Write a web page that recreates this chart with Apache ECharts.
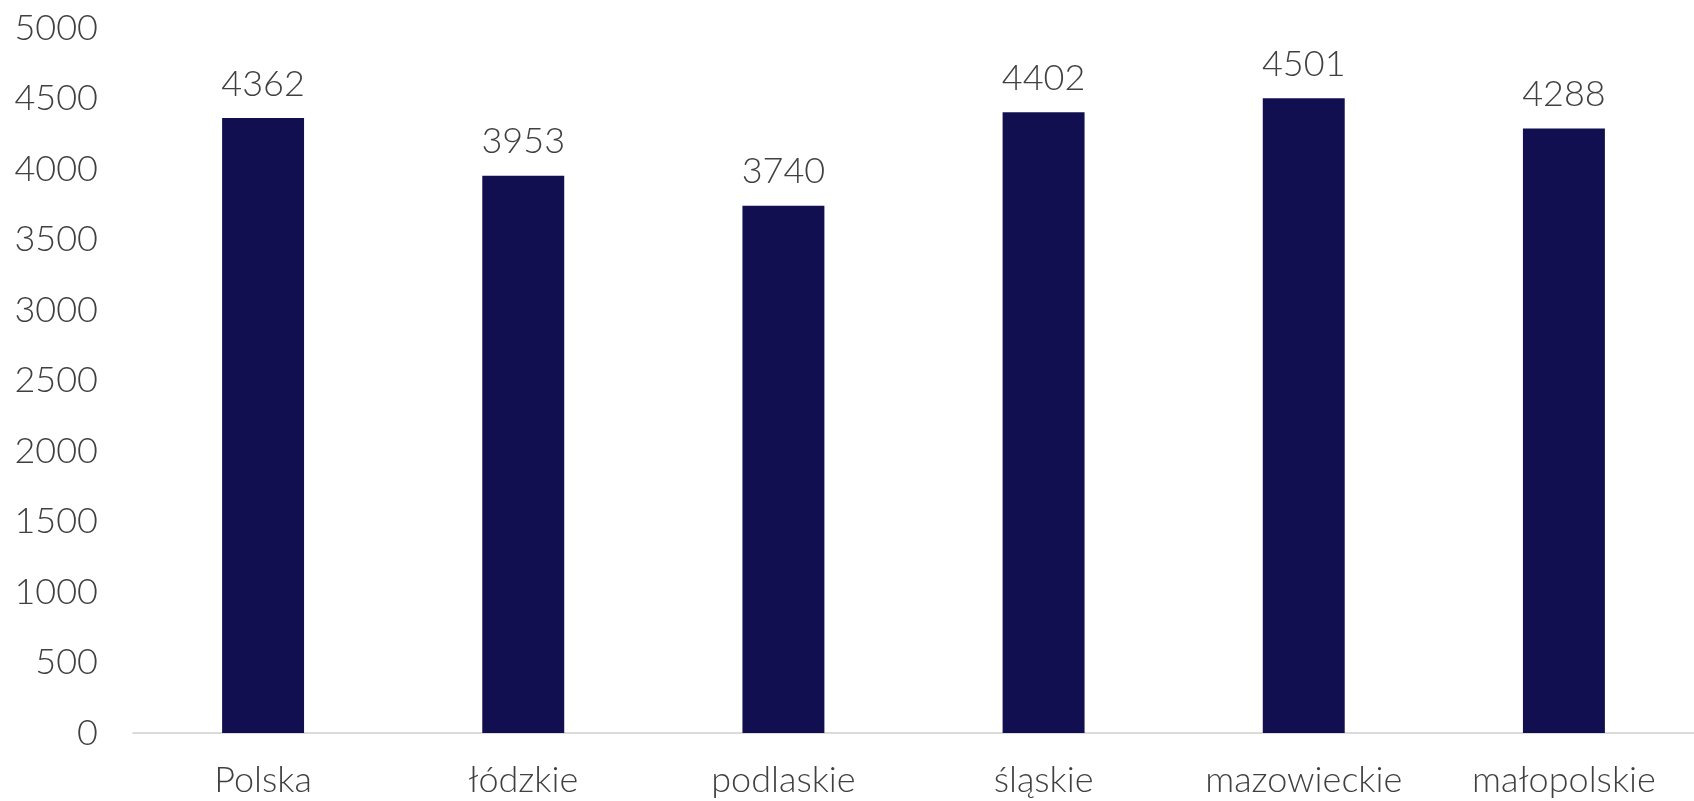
<!DOCTYPE html>
<html><head><meta charset="utf-8">
<script src="https://cdn.jsdelivr.net/npm/echarts@6/dist/echarts.min.js"></script>
<style>html,body{margin:0;padding:0;background:#fff}#c{width:1694px;height:801px}</style>
</head><body><div id="c"></div>
<script>
const categories = ['Polska', 'łódzkie', 'podlaskie', 'śląskie', 'mazowieckie', 'małopolskie'];
const values = [4362, 3953, 3740, 4402, 4501, 4288];
const yTicks = { min: 0, max: 5000, interval: 500 };

const chart = echarts.init(document.getElementById('c'));
const font = 'Lato';
chart.setOption({
  animation: false,
  grid: { left: 133, right: 0, top: 28, bottom: 68, containLabel: false },
  xAxis: {
    type: 'category', data: categories,
    axisLine: { lineStyle: { color: '#d0d0d0', width: 1.5 } },
    axisTick: { show: false },
    axisLabel: { color: '#404040', fontFamily: font, fontWeight: 300, fontSize: 36, margin: 29 }
  },
  yAxis: {
    type: 'value', min: yTicks.min, max: yTicks.max, interval: yTicks.interval,
    splitLine: { show: false }, axisLine: { show: false }, axisTick: { show: false },
    axisLabel: { color: '#404040', fontFamily: font, fontWeight: 300, fontSize: 36, margin: 35,
      formatter: v => String(v) }
  },
  series: [{
    type: 'bar', data: values, barWidth: '31.5%',
    itemStyle: { color: '#110f4f' },
    label: { show: true, position: 'top', distance: 16, color: '#404040', fontFamily: font, fontWeight: 300, fontSize: 36 }
  }]
});
</script></body></html>
